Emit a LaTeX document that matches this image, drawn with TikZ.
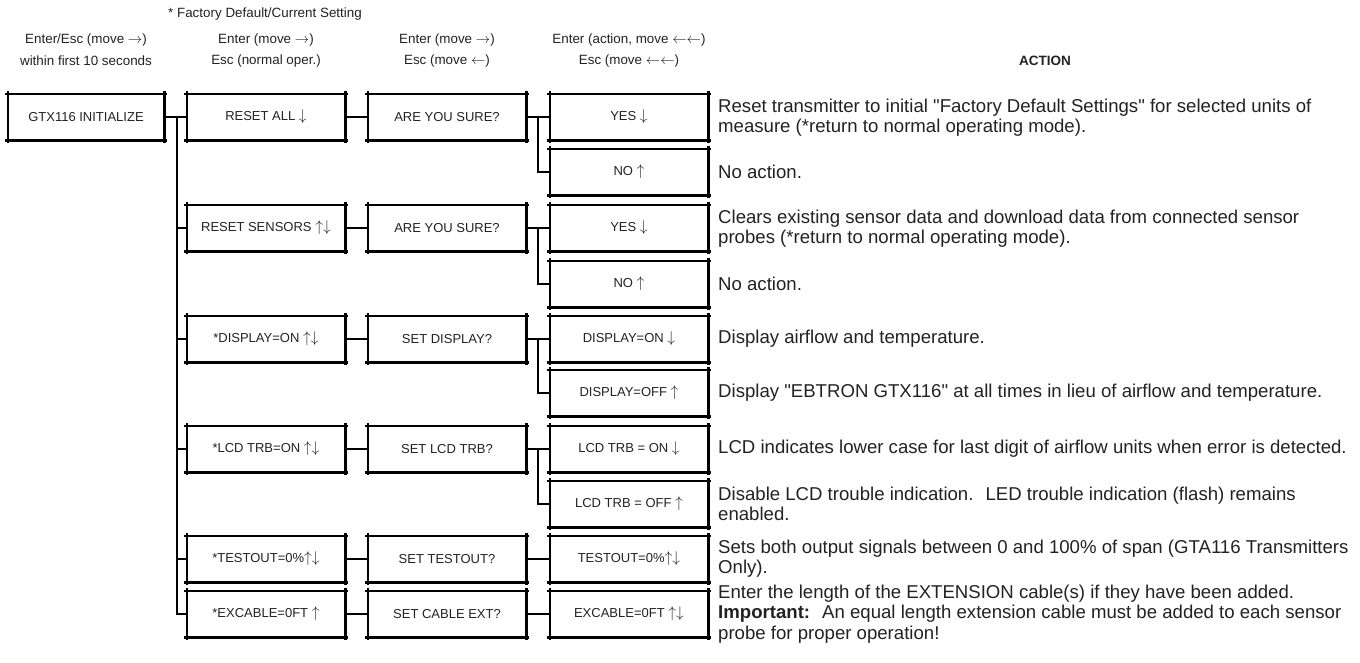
\documentclass[tikz,border=0pt]{standalone}
\usepackage{fontspec}
\setmainfont{Liberation Sans}
\usetikzlibrary{calc}
\definecolor{txt}{HTML}{222222}
\newcommand\dn{\raisebox{-0.5pt}{\scalebox{1.3}{$\downarrow$}}}
\newcommand\up{\raisebox{-0.5pt}{\scalebox{1.3}{$\uparrow$}}}
\newcommand\ud{\raisebox{-0.5pt}{\scalebox{1.3}{$\uparrow\downarrow$}}}
\newcommand\qq{\textquotedbl}
\begin{document}
\begin{tikzpicture}[x=1pt,y=-1pt,
 box/.style={minimum width=158pt,minimum height=46pt,inner sep=0pt,font=\fontsize{13}{15}\selectfont,text=txt},
 bedge/.style={line width=2.6pt,shorten <=-3pt,shorten >=-3pt},
 conn/.style={line width=2.2pt},
 hdr/.style={font=\fontsize{13.4}{15}\selectfont,text=txt,inner sep=0pt},
 act/.style={anchor=west,align=left,inner sep=0pt,font=\fontsize{18.6}{20.3}\selectfont,text=txt}]
\useasboundingbox (0,0) rectangle (1360,662);

% headers
\node[hdr] (fd) at (265,14) {* Factory Default/Current Setting};
\node[hdr] (h1a) at (86,40) {Enter/Esc (move $\rightarrow$)};
\node[hdr] (h1b) at (86,61) {within first 10 seconds};
\node[hdr] (h2a) at (266,40) {Enter (move $\rightarrow$)};
\node[hdr] (h2b) at (266,61) {Esc (normal oper.)};
\node[hdr] (h3a) at (447,40) {Enter (move $\rightarrow$)};
\node[hdr] (h3b) at (447,61) {Esc (move $\leftarrow$)};
\node[hdr] (h4a) at (629,40) {Enter (action, move $\leftarrow\leftarrow$)};
\node[hdr] (h4b) at (629,61) {Esc (move $\leftarrow\leftarrow$)};
\node[hdr,font=\bfseries\fontsize{13.5}{15}\selectfont] (acth) at (1045,61) {ACTION};

% boxes
\node[box,minimum width=156pt] (gtx) at (86,117) {GTX116 INITIALIZE};

\node[box] (c2a) at (266,117) {RESET ALL \dn};
\node[box] (c2b) at (266,228) {RESET SENSORS \ud};
\node[box] (c2c) at (266,339) {*DISPLAY=ON \ud};
\node[box] (c2d) at (266,449) {*LCD TRB=ON \ud};
\node[box] (c2e) at (266,559) {*TESTOUT=0\%\ud};
\node[box] (c2f) at (266,614) {*EXCABLE=0FT \up};

\node[box] (c3a) at (447,117) {ARE YOU SURE?};
\node[box] (c3b) at (447,228) {ARE YOU SURE?};
\node[box] (c3c) at (447,339) {SET DISPLAY?};
\node[box] (c3d) at (447,449) {SET LCD TRB?};
\node[box] (c3e) at (447,559) {SET TESTOUT?};
\node[box] (c3f) at (447,614) {SET CABLE EXT?};

\node[box] (y1) at (629,117) {YES \dn};
\node[box] (n1) at (629,172) {NO \up};
\node[box] (y2) at (629,228) {YES \dn};
\node[box] (n2) at (629,284) {NO \up};
\node[box] (d1) at (629,339) {DISPLAY=ON \dn};
\node[box] (d2) at (629,393) {DISPLAY=OFF \up};
\node[box] (l1) at (629,449) {LCD TRB = ON \dn};
\node[box] (l2) at (629,504) {LCD TRB = OFF \up};
\node[box] (t1) at (629,559) {TESTOUT=0\%\ud};
\node[box] (e1) at (629,614) {EXCABLE=0FT \ud};

\foreach \n in {gtx,c2a,c2b,c2c,c2d,c2e,c2f,c3a,c3b,c3c,c3d,c3e,c3f,y1,n1,y2,n2,d1,d2,l1,l2,t1,e1}{
 \draw[bedge] (\n.north west) -- (\n.north east);
 \draw[bedge] (\n.south west) -- (\n.south east);
 \draw[bedge] (\n.north west) -- (\n.south west);
 \draw[bedge] (\n.north east) -- (\n.south east);
}

% connectors
\coordinate (t) at (177,117);
\draw[conn] (gtx.east) -- (c2a.west);
\foreach \n in {c2b,c2c,c2d,c2e,c2f} \draw[conn] (t) |- (\n.west);
\foreach \a/\b in {c2a/c3a,c2b/c3b,c2c/c3c,c2d/c3d,c2e/c3e,c2f/c3f,c3a/y1,c3b/y2,c3c/d1,c3d/l1,c3e/t1,c3f/e1}
 \draw[conn] (\a.east) -- (\b.west);
\foreach \a/\b/\c in {c3a/y1/n1,c3b/y2/n2,c3c/d1/d2,c3d/l1/l2}
 \draw[conn] ($(\a.east)!.5!(\b.west)$) |- (\c.west);

% actions
\node[act] (a1) at (718,118) {Reset transmitter to initial \qq Factory Default Settings\qq{} for selected units of\\measure (*return to normal operating mode).};
\node[act] (a2) at (718,172) {No action.};
\node[act] (a3) at (718,229) {Clears existing sensor data and download data from connected sensor\\probes (*return to normal operating mode).};
\node[act] (a4) at (718,284) {No action.};
\node[act] (a5) at (718,339) {Display airflow and temperature.};
\node[act] (a6) at (718,393) {Display \qq EBTRON GTX116\qq{} at all times in lieu of airflow and temperature.};
\node[act] (a7) at (718,449) {LCD indicates lower case for last digit of airflow units when error is detected.};
\node[act] (a8) at (718,504) {Disable LCD trouble indication.~ LED trouble indication (flash) remains\\enabled.};
\node[act] (a9) at (718,559) {Sets both output signals between 0 and 100\% of span (GTA116 Transmitters\\Only).};
\node[act] (a10) at (718,614) {Enter the length of the EXTENSION cable(s) if they have been added.\\\textbf{Important:}~ An equal length extension cable must be added to each sensor\\probe for proper operation!};
\end{tikzpicture}
\end{document}
